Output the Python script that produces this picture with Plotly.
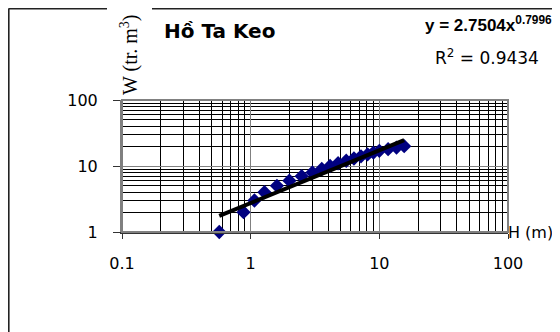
import numpy as np
import plotly.graph_objects as go

# Data
H_m = [0.57, 0.88, 1.07, 1.28, 1.6, 2.0, 2.49, 3.02, 3.57, 4.14, 4.78, 5.53,
       6.35, 7.2, 8.1, 9.0, 10.0, 11.7, 13.6, 15.6]
W_mcm = [1, 2, 3, 4, 5, 6, 7, 8, 9, 10, 11, 12, 13, 14, 15, 16, 17, 18, 19, 20]

fit_a = 2.7504
fit_b = 0.7996

x_ticks = [0.1, 1, 10, 100]
x_tick_labels = ["0.1", "1", "10", "100"]
y_ticks = [1, 10, 100]
y_tick_labels = ["1", "10", "100"]

title_text = "Hồ Ta Keo"
eq_text = "y = 2.7504x<sup>0.7996</sup>"
r2_text = "R<sup>2</sup> = 0.9434"
ytitle_text = "W (tr. m<sup>3</sup>)"
xtitle_text = "H (m)"

fit_x = np.geomspace(min(H_m), max(H_m), 60)
fit_y = fit_a * fit_x ** fit_b

# the page body adds an 8px offset; work in window pixels and convert
OFF = 8
W, Hh = 552, 324
L, T = 122 - OFF, 100 - OFF
pw, ph = 386, 132
R = W - L - pw
B = Hh - T - ph

def px(x):
    return (x - OFF - L) / pw

def py(y):
    return (T + ph - (y - OFF)) / ph

fig = go.Figure()
fig.add_trace(go.Scatter(x=H_m, y=W_mcm, mode="markers",
                         marker=dict(symbol="diamond", size=11, color="#000080",
                                     line=dict(width=0)),
                         showlegend=False, cliponaxis=False))
fig.add_trace(go.Scatter(x=fit_x, y=fit_y, mode="lines",
                         line=dict(color="black", width=4),
                         showlegend=False))

sans = "Liberation Sans, Arial, sans-serif"
wide = "DejaVu Sans, sans-serif"
fig.update_layout(
    width=W, height=Hh,
    margin=dict(l=L, r=R, t=T, b=B),
    paper_bgcolor="white", plot_bgcolor="white",
    font=dict(family=wide, size=16, color="black"),
    xaxis=dict(type="log", range=[-1, 2], tickvals=x_ticks, ticktext=x_tick_labels,
               showgrid=True, gridcolor="#808080", gridwidth=1,
               minor=dict(showgrid=True, gridcolor="black", gridwidth=1, dtick="D1", ticks=""),
               showline=True, linecolor="#333333", linewidth=2,
               ticks="outside", ticklen=5, tickcolor="#333333",
               ticklabelstandoff=11, zeroline=False,
               tickfont=dict(size=16, family=wide)),
    yaxis=dict(type="log", range=[0, 2], tickvals=y_ticks, ticktext=y_tick_labels,
               showgrid=True, gridcolor="#808080", gridwidth=1,
               minor=dict(showgrid=True, gridcolor="black", gridwidth=1, dtick="D1", ticks=""),
               showline=True, linecolor="#808080", linewidth=2,
               ticks="outside", ticklen=7, tickcolor="#333333",
               ticklabelstandoff=12, zeroline=False,
               tickfont=dict(size=16, family=wide)),
)

# plot-area border (gray)
fig.add_shape(type="rect", xref="x domain", yref="y domain", x0=0, x1=1, y0=0, y1=1,
              line=dict(color="#808080", width=2), layer="above")
# outer chart frame (partially visible)
frame = dict(color="#222222", width=2)
fx0, fy0 = 8.6, 8.6
fig.add_shape(type="line", xref="paper", yref="paper", x0=px(fx0), x1=px(fx0), y0=py(fy0), y1=py(345), line=frame)
fig.add_shape(type="line", xref="paper", yref="paper", x0=px(fx0), x1=px(107), y0=py(fy0), y1=py(fy0), line=frame)
fig.add_shape(type="line", xref="paper", yref="paper", x0=px(152), x1=px(575), y0=py(fy0), y1=py(fy0), line=frame)

fig.add_annotation(xref="paper", yref="paper", x=px(162), y=py(31), xanchor="left", yanchor="middle",
                   text="<b>" + title_text + "</b>", showarrow=False, font=dict(size=20, family=wide))
fig.add_annotation(xref="paper", yref="paper", x=px(129), y=py(55), xanchor="center", yanchor="middle",
                   text=ytitle_text, textangle=-90, showarrow=False,
                   font=dict(size=20, family="Liberation Serif, Times New Roman, serif"))
fig.add_annotation(xref="paper", yref="paper", x=px(423), y=py(24), xanchor="left", yanchor="middle",
                   text="<b>" + eq_text + "</b>", showarrow=False, font=dict(size=17, family=sans))
fig.add_annotation(xref="paper", yref="paper", x=px(433), y=py(57), xanchor="left", yanchor="middle",
                   text=r2_text, showarrow=False, font=dict(size=17, family=wide))
fig.add_annotation(xref="paper", yref="paper", x=px(506), y=py(232), xanchor="left", yanchor="middle",
                   text=xtitle_text, showarrow=False, font=dict(size=16, family=wide))

fig.write_html("out.html")
